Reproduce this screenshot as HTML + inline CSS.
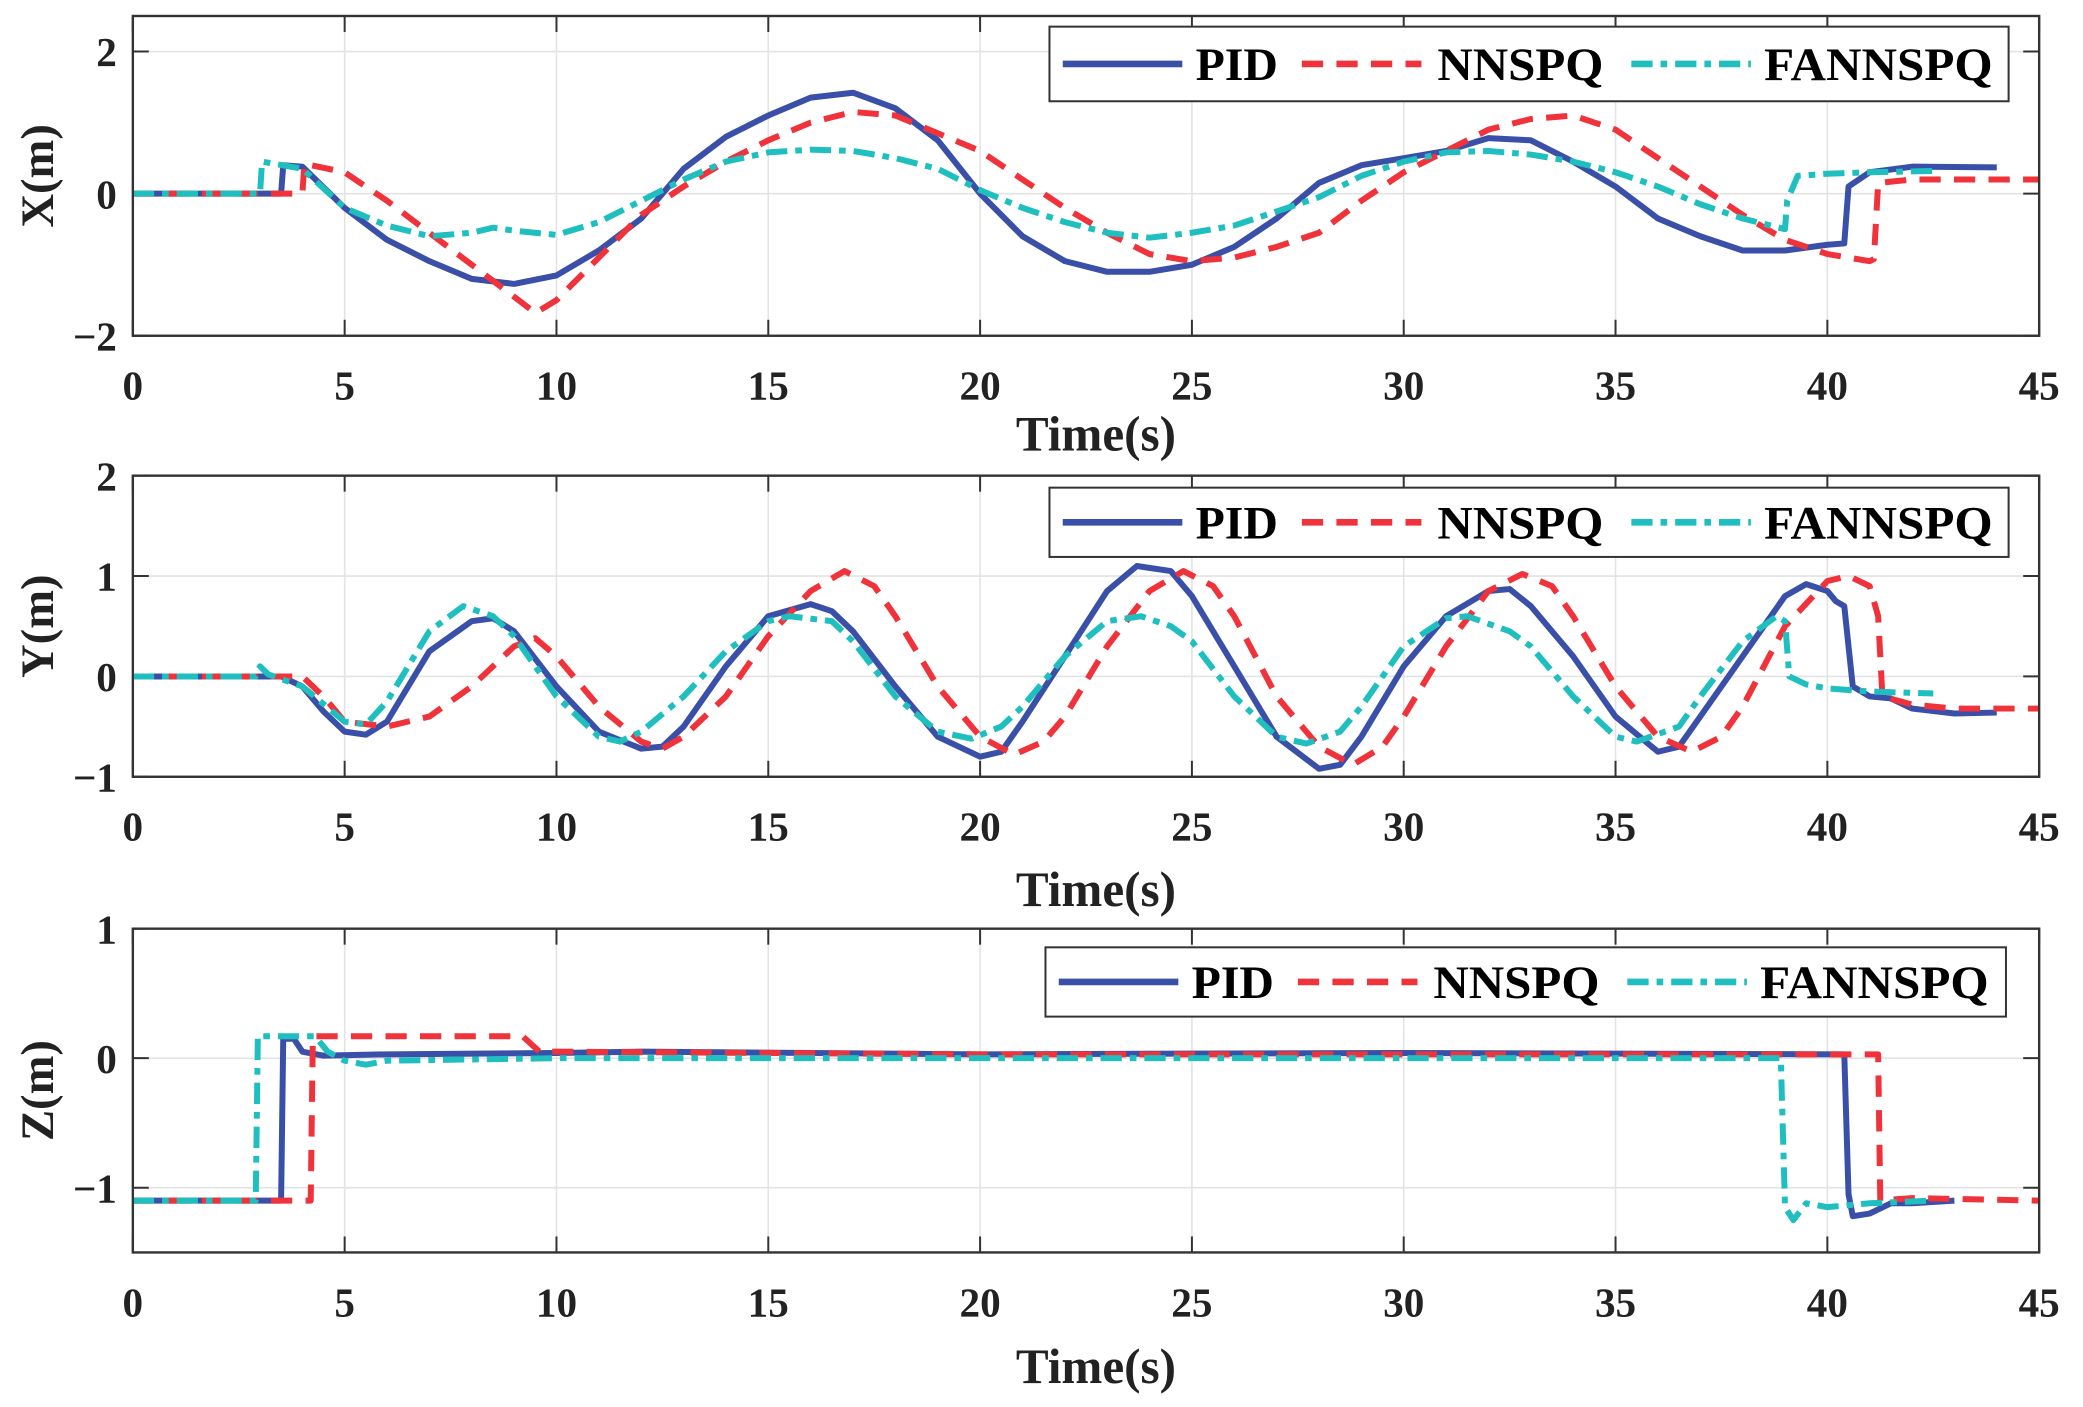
<!DOCTYPE html>
<html><head><meta charset="utf-8"><style>
html,body{margin:0;padding:0;background:#fff;}
svg{display:block;font-family:"Liberation Serif",serif;font-weight:bold;}
</style></head><body>
<svg id="fig" width="2083" height="1407" viewBox="0 0 1568 1056" preserveAspectRatio="none" xmlns="http://www.w3.org/2000/svg"></svg>
<script>
const xTicks=[0,5,10,15,20,25,30,35,40,45];
const seriesNames=["PID","NNSPQ","FANNSPQ"];
// X subplot
const xPID=[[0,0],[3.5,0],[3.55,0.4],[4,0.38],[5,-0.2],[6,-0.65],[7,-0.95],[8,-1.2],[9,-1.27],[10,-1.15],[11,-0.8],[12,-0.35],[13,0.35],[14,0.8],[15,1.1],[16,1.35],[17,1.42],[18,1.2],[19,0.75],[20,0],[21,-0.6],[22,-0.95],[23,-1.1],[24,-1.1],[25,-1.0],[26,-0.75],[27,-0.35],[28,0.15],[29,0.4],[30,0.5],[31,0.6],[32,0.78],[33,0.75],[34,0.45],[35,0.1],[36,-0.35],[37,-0.6],[38,-0.8],[39,-0.8],[40,-0.72],[40.4,-0.7],[40.5,0.1],[41,0.3],[42,0.38],[44,0.37]];
const xNN=[[0,0],[4,0],[4.05,0.42],[5,0.3],[6,-0.1],[7,-0.55],[8,-1.0],[9,-1.45],[9.5,-1.68],[10,-1.5],[11,-0.9],[12,-0.3],[13,0.1],[14,0.45],[15,0.75],[16,1.0],[17,1.15],[18,1.1],[19,0.85],[20,0.6],[21,0.2],[22,-0.2],[23,-0.55],[24,-0.85],[25,-0.95],[26,-0.9],[27,-0.75],[28,-0.55],[29,-0.1],[30,0.3],[31,0.6],[32,0.9],[33,1.05],[34,1.1],[35,0.9],[36,0.5],[37,0.1],[38,-0.3],[39,-0.65],[40,-0.85],[41,-0.95],[41.1,-0.92],[41.2,0.15],[42,0.2],[45,0.2]];
const xFA=[[0,0],[3,0],[3.05,0.45],[4,0.35],[5,-0.2],[6,-0.45],[7,-0.6],[8,-0.55],[8.5,-0.48],[9,-0.52],[10,-0.58],[11,-0.4],[12,-0.1],[13,0.2],[14,0.45],[15,0.58],[16,0.62],[17,0.6],[18,0.5],[19,0.35],[20,0.05],[21,-0.2],[22,-0.4],[23,-0.55],[24,-0.62],[25,-0.55],[26,-0.45],[27,-0.25],[28,-0.05],[29,0.25],[30,0.45],[31,0.58],[32,0.6],[33,0.55],[34,0.45],[35,0.3],[36,0.1],[37,-0.15],[38,-0.35],[39,-0.5],[39.05,-0.1],[39.3,0.25],[40,0.28],[41,0.3],[42.5,0.32]];
// Y subplot
const yPID=[[0,0],[3.5,0],[4,-0.1],[4.5,-0.35],[5,-0.55],[5.5,-0.58],[6,-0.45],[7,0.25],[8,0.55],[8.5,0.58],[9,0.45],[10,-0.1],[11,-0.55],[12,-0.72],[12.5,-0.7],[13,-0.5],[14,0.1],[15,0.6],[16,0.72],[16.5,0.65],[17,0.45],[18,-0.1],[19,-0.6],[20,-0.8],[20.5,-0.75],[21,-0.45],[22,0.2],[23,0.85],[23.7,1.1],[24.5,1.05],[25,0.8],[26,0.1],[27,-0.6],[28,-0.92],[28.5,-0.88],[29,-0.6],[30,0.1],[31,0.6],[32,0.85],[32.5,0.87],[33,0.7],[34,0.2],[35,-0.4],[36,-0.75],[36.5,-0.7],[37,-0.4],[38,0.2],[39,0.8],[39.5,0.92],[40,0.85],[40.2,0.75],[40.4,0.7],[40.6,-0.1],[41,-0.2],[41.5,-0.22],[42,-0.32],[43,-0.37],[44,-0.36]];
const yNN=[[0,0],[4,0],[4.5,-0.2],[5,-0.45],[6,-0.5],[7,-0.4],[8,-0.1],[9,0.3],[9.5,0.38],[10,0.2],[11,-0.3],[12,-0.65],[12.5,-0.72],[13,-0.6],[14,-0.2],[15,0.4],[16,0.85],[16.8,1.05],[17.5,0.9],[18,0.6],[19,-0.1],[20,-0.6],[20.8,-0.78],[21.5,-0.65],[22,-0.4],[23,0.3],[24,0.85],[24.8,1.05],[25.5,0.9],[26,0.6],[27,-0.2],[28,-0.7],[28.8,-0.88],[29.5,-0.7],[30,-0.4],[31,0.3],[32,0.85],[32.8,1.02],[33.5,0.9],[34,0.6],[35,-0.1],[36,-0.6],[36.8,-0.75],[37.5,-0.6],[38,-0.3],[39,0.5],[40,0.95],[40.5,1.0],[41,0.9],[41.2,0.6],[41.3,-0.2],[42,-0.28],[43,-0.32],[45,-0.32]];
const yFA=[[0,0],[2.9,0],[3,0.1],[3.2,0.02],[4,-0.1],[5,-0.45],[5.5,-0.48],[6,-0.25],[7,0.45],[7.8,0.7],[8.5,0.6],[9,0.4],[10,-0.2],[11,-0.6],[11.5,-0.65],[12,-0.55],[13,-0.2],[14,0.25],[15,0.55],[15.5,0.6],[16.5,0.55],[17,0.35],[18,-0.2],[19,-0.55],[19.8,-0.62],[20.5,-0.5],[21,-0.3],[22,0.2],[23,0.55],[23.8,0.6],[24.5,0.5],[25,0.35],[26,-0.2],[27,-0.6],[27.7,-0.67],[28.5,-0.55],[29,-0.3],[30,0.3],[31,0.58],[31.5,0.6],[32.5,0.45],[33,0.3],[34,-0.2],[35,-0.6],[35.5,-0.65],[36.5,-0.5],[37,-0.2],[38,0.35],[38.8,0.6],[39,0.55],[39.1,0],[39.5,-0.08],[40,-0.12],[41,-0.15],[42.5,-0.17]];
// Z subplot
const zPID=[[0,-1.1],[3.5,-1.1],[3.55,0.15],[3.8,0.15],[4,0.05],[4.5,0.02],[6,0.03],[10,0.04],[12,0.05],[20,0.03],[30,0.04],[40.4,0.03],[40.5,-1.05],[40.6,-1.22],[41,-1.2],[41.5,-1.12],[42,-1.12],[43,-1.1]];
const zNN=[[0,-1.1],[4.2,-1.1],[4.25,0.17],[9.2,0.17],[9.6,0.05],[10,0.05],[20,0.03],[41.2,0.03],[41.25,-1.1],[42,-1.08],[45,-1.1]];
const zFA=[[0,-1.1],[2.9,-1.1],[2.95,0.17],[4.3,0.17],[4.6,0.05],[5,-0.02],[5.5,-0.05],[6,-0.02],[10,0],[38.9,0],[39,-1.15],[39.2,-1.25],[39.5,-1.12],[40,-1.15],[41,-1.12],[42.5,-1.1]];
const xYTicks=[-2,0,2], yYTicks=[-1,0,1,2], zYTicks=[-1,0,1];

const NS="http://www.w3.org/2000/svg";
const svg=document.getElementById('fig');
function mk(t,a,p){const e=document.createElementNS(NS,t);for(const k in a)e.setAttribute(k,a[k]);(p||svg).appendChild(e);return e;}
const colors=["#3a4fa8","#f0323a","#1fbfbf"];
const dashes=["none","16 10","16 6 5 6"];
const L=100,R=1535;
const panels=[
 {id:"x",label:"X(m)",top:12,bot:252,ymin:-2,ymax:2.5,ticks:xYTicks,data:[xPID,xNN,xFA],tickY:300,titleY:338,leg:[790,20,722,56]},
 {id:"y",label:"Y(m)",top:357,bot:583,ymin:-1,ymax:2,ticks:yYTicks,data:[yPID,yNN,yFA],tickY:631,titleY:680,leg:[790,366,722,52]},
 {id:"z",label:"Z(m)",top:697,bot:940,ymin:-1.5,ymax:1,ticks:zYTicks,data:[zPID,zNN,zFA],tickY:988,titleY:1038,leg:[787,711,723,52]}
];
panels.forEach(p=>{
 const g=mk('g',{});
 
 
 const sx=v=>L+(v-0)/(45-0)*(R-L);
 const sy=v=>p.bot-(v-p.ymin)/(p.ymax-p.ymin)*(p.bot-p.top);
 xTicks.forEach(t=>{
  const gl=mk('line',{x1:sx(t),x2:sx(t),y1:p.top,y2:p.bot,stroke:"#e3e3e3","stroke-width":1.2},g);
  
  mk('line',{x1:sx(t),x2:sx(t),y1:p.bot,y2:p.bot-12,stroke:"#333","stroke-width":1.5},g);
  mk('line',{x1:sx(t),x2:sx(t),y1:p.top,y2:p.top+12,stroke:"#333","stroke-width":1.5},g);
  const tx=mk('text',{x:sx(t),y:p.tickY,"text-anchor":"middle","font-size":31,fill:"#222"},g);
  tx.textContent=t;
 });
 p.ticks.forEach(t=>{
  const gl=mk('line',{x1:L,x2:R,y1:sy(t),y2:sy(t),stroke:"#e3e3e3","stroke-width":1.2},g);
  
  mk('line',{x1:L,x2:L+12,y1:sy(t),y2:sy(t),stroke:"#333","stroke-width":1.5},g);
  mk('line',{x1:R,x2:R-12,y1:sy(t),y2:sy(t),stroke:"#333","stroke-width":1.5},g);
  const tx=mk('text',{x:88,y:sy(t)+11,"text-anchor":"end","font-size":31,fill:"#222"},g);
  tx.textContent=t<0?"\u2212"+(-t):t;
 });
 p.data.forEach((d,i)=>{
  const pl=mk('polyline',{points:d.map(q=>sx(q[0]).toFixed(1)+","+sy(q[1]).toFixed(1)).join(" "),fill:"none",stroke:colors[i],"stroke-width":4.5,"stroke-dasharray":dashes[i],"stroke-linejoin":"round"},g);
  
  
 });
 const box=mk('rect',{x:L,y:p.top,width:R-L,height:p.bot-p.top,fill:"none",stroke:"#333","stroke-width":1.8},g);
 
 const xt=mk('text',{x:825,y:p.titleY,"text-anchor":"middle","font-size":37,fill:"#222"},g);
 xt.textContent="Time(s)";
 const yt=mk('text',{x:0,y:0,"text-anchor":"middle","font-size":35,fill:"#222",transform:`translate(40,${(p.top+p.bot)/2}) rotate(-90)`},g);
 yt.textContent=p.label;
 const [lx,ly,lw,lh]=p.leg;
 const lg=mk('g',{},g);
 
 mk('rect',{x:lx,y:ly,width:lw,height:lh,fill:"#fff",stroke:"#333","stroke-width":1.5},lg);
 const offs=[[10,110,62],[190,292,125],[438,538,172]];
 seriesNames.forEach((n,i)=>{
  const cy=ly+lh/2;
  const e=mk('g',{},lg);
  
  mk('line',{x1:lx+offs[i][0],x2:lx+offs[i][0]+90,y1:cy,y2:cy,stroke:colors[i],"stroke-width":5,"stroke-dasharray":dashes[i]},e);
  const t=mk('text',{x:lx+offs[i][1],y:cy+12,"font-size":35,fill:"#000",textLength:offs[i][2],lengthAdjust:"spacingAndGlyphs"},e);
  t.textContent=n;
 });
});
</script>
</body></html>
